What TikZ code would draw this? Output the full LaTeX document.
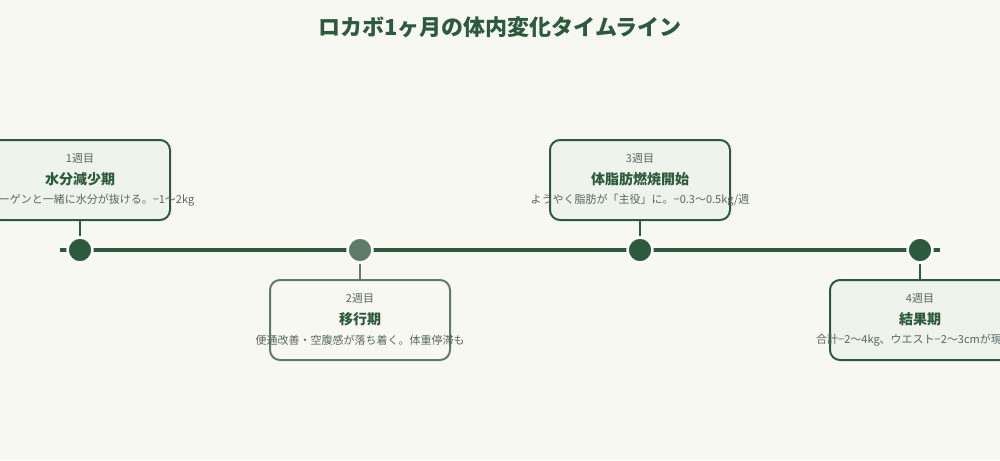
\documentclass[tikz,border=0pt]{standalone}
\usepackage{fontspec}
\setmainfont{Noto Sans CJK JP}
\usetikzlibrary{positioning}
\definecolor{lcgreen}{HTML}{2D5A3D}
\definecolor{lcsoft}{HTML}{5E7D69}
\definecolor{lcbg}{HTML}{F8F8F3}
\definecolor{lcfill}{HTML}{EEF3EC}
\definecolor{lcgray}{HTML}{5A6660}

\begin{document}
\begin{tikzpicture}[
  x=1pt, y=-1pt,
  phase/.style={
    draw=lcgreen, line width=2pt,
    fill=lcfill,
    rounded corners=10pt,
    minimum width=180pt, minimum height=80pt,
    inner sep=0pt
  },
  phasesoft/.style={phase, draw=lcsoft, fill=lcbg},
  week/.style={font=\fontsize{11}{13}\selectfont, text=lcgray},
  ttl/.style={font=\fontsize{14}{16}\selectfont\bfseries, text=lcgreen},
  desc/.style={font=\fontsize{11}{13}\selectfont, text=lcgray},
  dot/.style={circle, fill=lcgreen, draw=white, line width=2.5pt,
    minimum size=25pt, inner sep=0pt},
  dotsoft/.style={dot, fill=lcsoft},
  link/.style={line width=2pt, draw=lcgreen}
]
\fill[lcbg] (0,0) rectangle (1000,460);
\clip (0,0) rectangle (1000,460);
\useasboundingbox (0,0) rectangle (1000,460);

\node[font=\fontsize{22}{26}\selectfont\bfseries, text=lcgreen] (title) at (500,27)
  {ロカボ1ヶ月の体内変化タイムライン};

% timeline
\coordinate (tl0) at (60,250);
\coordinate (tl1) at (940,250);
\draw[line width=4pt, draw=lcgreen] (tl0) -- (tl1);

% boxes
\node[phase] (b1) at (80,180) {};
\node[phasesoft] (b2) at (360,320) {};
\node[phase] (b3) at (640,180) {};
\node[phase] (b4) at (920,320) {};

% texts
\node[week] (w1) at (80,158) {1週目};
\node[ttl] (t1) at (80,179) {水分減少期};
\node[desc] (d1) at (80,200) {グリコーゲンと一緒に水分が抜ける。−1〜2kg};
\node[week] (w2) at (360,298) {2週目};
\node[ttl] (t2) at (360,319) {移行期};
\node[desc] (d2) at (360,340) {便通改善・空腹感が落ち着く。体重停滞も};
\node[week] (w3) at (640,158) {3週目};
\node[ttl] (t3) at (640,179) {体脂肪燃焼開始};
\node[desc] (d3) at (640,200) {ようやく脂肪が「主役」に。−0.3〜0.5kg/週};
\node[week] (w4) at (920,298) {4週目};
\node[ttl] (t4) at (920,319) {結果期};
\node[desc] (d4) at (920,340) {合計−2〜4kg、ウエスト−2〜3cmが現実的};

% dots and links
\node[dot] (p1) at (80,250) {};
\node[dotsoft] (p2) at (360,250) {};
\node[dot] (p3) at (640,250) {};
\node[dot] (p4) at (920,250) {};

\draw[link] (b1.south) -- (p1.north);
\draw[link, draw=lcsoft] (b2.north) -- (p2.south);
\draw[link] (b3.south) -- (p3.north);
\draw[link] (b4.north) -- (p4.south);
\end{tikzpicture}
\end{document}
